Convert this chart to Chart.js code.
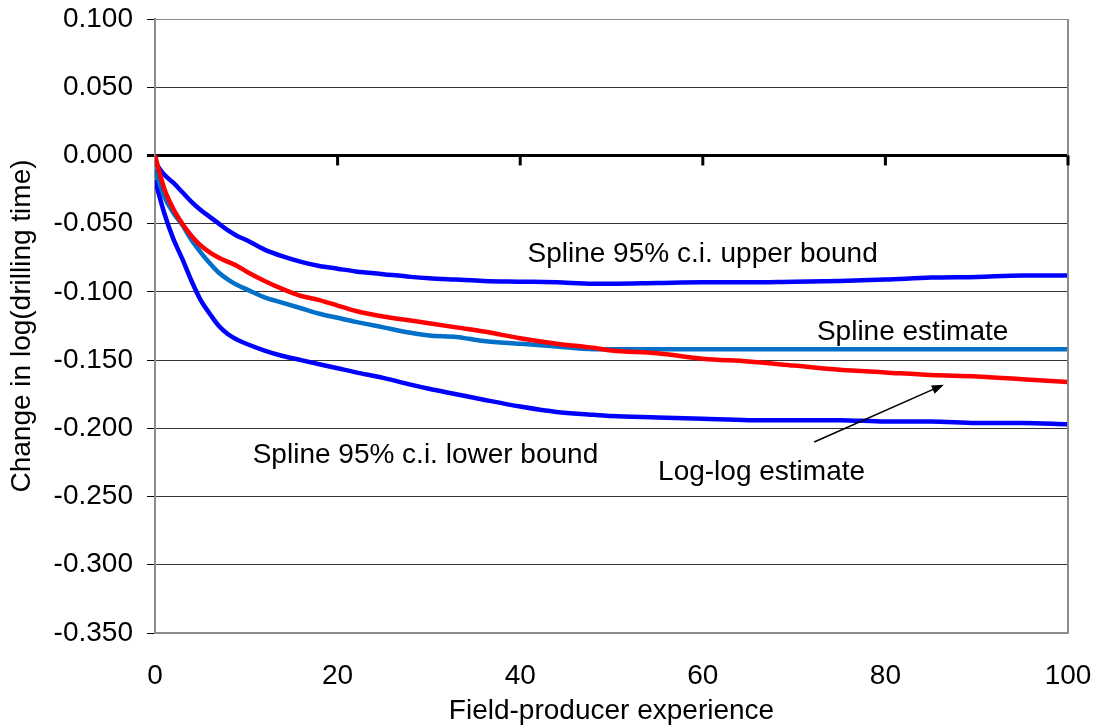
<!DOCTYPE html>
<html>
<head>
<meta charset="utf-8">
<script src="https://cdn.jsdelivr.net/npm/chart.js@4.4.1/dist/chart.umd.min.js"></script>
<style>
  body { margin: 0; background: #fff; }
  canvas { display: block; }
</style>
</head>
<body>
<canvas id="chart" width="1100" height="728"></canvas>
<script>
var experience = [0, 1, 2, 3, 4, 5, 6, 7, 8, 9, 10, 12, 14, 16, 18, 20, 22, 25, 28, 30, 33, 36, 40, 44, 48, 50, 55, 60, 65, 70, 75, 80, 85, 90, 95, 100];

var upperBound = [-0.005, -0.014, -0.020, -0.027, -0.034, -0.040, -0.045, -0.050, -0.055, -0.059, -0.062, -0.069, -0.074, -0.078, -0.081, -0.083, -0.085, -0.087, -0.089, -0.090, -0.091, -0.092, -0.0925, -0.093, -0.094, -0.094, -0.0935, -0.093, -0.093, -0.0925, -0.092, -0.091, -0.0895, -0.089, -0.088, -0.088];

var splineEstimate = [-0.010, -0.030, -0.042, -0.051, -0.062, -0.071, -0.079, -0.086, -0.091, -0.095, -0.098, -0.104, -0.108, -0.112, -0.116, -0.119, -0.122, -0.126, -0.130, -0.132, -0.133, -0.136, -0.138, -0.140, -0.142, -0.142, -0.142, -0.142, -0.142, -0.142, -0.142, -0.142, -0.142, -0.142, -0.142, -0.142];

var logLogEstimate = [0.000, -0.024, -0.039, -0.050, -0.059, -0.066, -0.071, -0.075, -0.078, -0.081, -0.085, -0.092, -0.098, -0.103, -0.106, -0.110, -0.114, -0.118, -0.121, -0.123, -0.126, -0.129, -0.134, -0.138, -0.141, -0.143, -0.145, -0.149, -0.151, -0.154, -0.157, -0.159, -0.161, -0.162, -0.164, -0.166];

var lowerBound = [-0.018, -0.042, -0.061, -0.076, -0.092, -0.106, -0.116, -0.125, -0.131, -0.135, -0.138, -0.143, -0.147, -0.150, -0.153, -0.156, -0.159, -0.163, -0.168, -0.171, -0.175, -0.179, -0.184, -0.188, -0.190, -0.191, -0.192, -0.193, -0.194, -0.194, -0.194, -0.195, -0.195, -0.196, -0.196, -0.197];

// text labels placed in data units: [text, x, y]
var notes = [
  ["Spline 95% c.i. upper bound", 40.8, -0.078],
  ["Spline estimate", 72.5, -0.1356],
  ["Spline 95% c.i. lower bound", 10.7, -0.2257],
  ["Log-log estimate", 55.1, -0.2375]
];
var arrowFrom = [72.2, -0.210];
var arrowTo = [86.4, -0.168];

function toPoints(ys) {
  var pts = [];
  for (var i = 0; i < experience.length; i++) {
    pts.push({ x: experience[i], y: ys[i] });
  }
  return pts;
}

var FONT = "'Liberation Sans', Arial, sans-serif";

var extras = {
  id: "extras",
  afterDatasetsDraw: function (chart) {
    var ctx = chart.ctx;
    var xs = chart.scales.x;
    var ys = chart.scales.y;
    var area = chart.chartArea;
    var y0 = ys.getPixelForValue(0);

    ctx.save();
    // right frame line
    ctx.strokeStyle = "#8c8c8c";
    ctx.lineWidth = 2;
    ctx.beginPath();
    ctx.moveTo(area.right, area.top);
    ctx.lineTo(area.right, area.bottom);
    ctx.stroke();

    // tick marks on the zero line
    ctx.strokeStyle = "#000";
    ctx.lineWidth = 3;
    xs.ticks.forEach(function (t) {
      if (t.value === 0) return;
      var px = xs.getPixelForValue(t.value);
      ctx.beginPath();
      ctx.moveTo(px, y0);
      ctx.lineTo(px, y0 + 10);
      ctx.stroke();
    });

    // annotations
    ctx.fillStyle = "#000";
    ctx.font = "28px " + FONT;
    ctx.textAlign = "left";
    ctx.textBaseline = "alphabetic";
    notes.forEach(function (n) {
      ctx.fillText(n[0], xs.getPixelForValue(n[1]), ys.getPixelForValue(n[2]));
    });

    // arrow
    var ax = xs.getPixelForValue(arrowFrom[0]), ay = ys.getPixelForValue(arrowFrom[1]);
    var bx = xs.getPixelForValue(arrowTo[0]), by = ys.getPixelForValue(arrowTo[1]);
    var ang = Math.atan2(by - ay, bx - ax);
    ctx.strokeStyle = "#000";
    ctx.lineWidth = 1.5;
    ctx.beginPath();
    ctx.moveTo(ax, ay);
    ctx.lineTo(bx - 8 * Math.cos(ang), by - 8 * Math.sin(ang));
    ctx.stroke();
    ctx.beginPath();
    ctx.moveTo(bx, by);
    ctx.lineTo(bx - 12 * Math.cos(ang) + 4.5 * Math.sin(ang), by - 12 * Math.sin(ang) - 4.5 * Math.cos(ang));
    ctx.lineTo(bx - 12 * Math.cos(ang) - 4.5 * Math.sin(ang), by - 12 * Math.sin(ang) + 4.5 * Math.cos(ang));
    ctx.closePath();
    ctx.fillStyle = "#000";
    ctx.fill();
    ctx.restore();
  }
};

var ctx = document.getElementById("chart").getContext("2d");
var chart = new Chart(ctx, {
  type: "line",
  data: {
    datasets: [
      { label: "Log-log estimate", data: toPoints(logLogEstimate), borderColor: "#ff0000" },
      { label: "Spline estimate", data: toPoints(splineEstimate), borderColor: "#0070c8" },
      { label: "Upper bound", data: toPoints(upperBound), borderColor: "#0000ff" },
      { label: "Lower bound", data: toPoints(lowerBound), borderColor: "#0000ff" }
    ]
  },
  options: {
    responsive: false,
    animation: false,
    layout: { padding: { top: 19, right: 32, left: 0, bottom: 0 } },
    elements: {
      line: { borderWidth: 4.5, cubicInterpolationMode: "monotone", fill: false },
      point: { radius: 0 }
    },
    plugins: {
      legend: { display: false },
      tooltip: { enabled: false }
    },
    scales: {
      x: {
        type: "linear",
        min: 0,
        max: 100,
        ticks: {
          stepSize: 20,
          color: "#000",
          font: { size: 28, family: FONT },
          padding: 26,
          maxRotation: 0
        },
        grid: { drawOnChartArea: false, drawTicks: false },
        border: { display: true, color: "#8c8c8c", width: 2 },
        title: {
          display: true,
          text: "Field-producer experience",
          color: "#000",
          font: { size: 28, family: FONT },
          padding: { top: 0, bottom: 0 }
        },
        afterFit: function (scale) {
          scale.height = 95;
          scale.paddingLeft = 0;
          scale.paddingRight = 0;
        }
      },
      y: {
        min: -0.35,
        max: 0.1,
        ticks: {
          stepSize: 0.05,
          color: "#000",
          font: { size: 28, family: FONT },
          padding: 14,
          callback: function (v) {
            if (Math.abs(v) < 1e-9) return "0.000";
            return v.toFixed(3);
          }
        },
        grid: {
          tickLength: 8,
          tickColor: "#000",
          color: function (c) {
            if (!c.tick) return "#333";
            if (Math.abs(c.tick.value) < 1e-9) return "#000";
            if (Math.abs(c.tick.value - 0.1) < 1e-9) return "#8c8c8c";
            return "#333";
          },
          lineWidth: function (c) {
            if (c.tick && Math.abs(c.tick.value) < 1e-9) return 3;
            return 1;
          }
        },
        border: { display: true, color: "#8c8c8c", width: 2 },
        title: {
          display: true,
          text: "Change in log(drilling time)",
          color: "#000",
          font: { size: 28, family: FONT },
          padding: { top: 5, bottom: 0 }
        },
        afterFit: function (scale) {
          scale.width = 155;
          scale.paddingTop = 0;
          scale.paddingBottom = 0;
        }
      }
    }
  },
  plugins: [extras]
});
</script>
</body>
</html>
